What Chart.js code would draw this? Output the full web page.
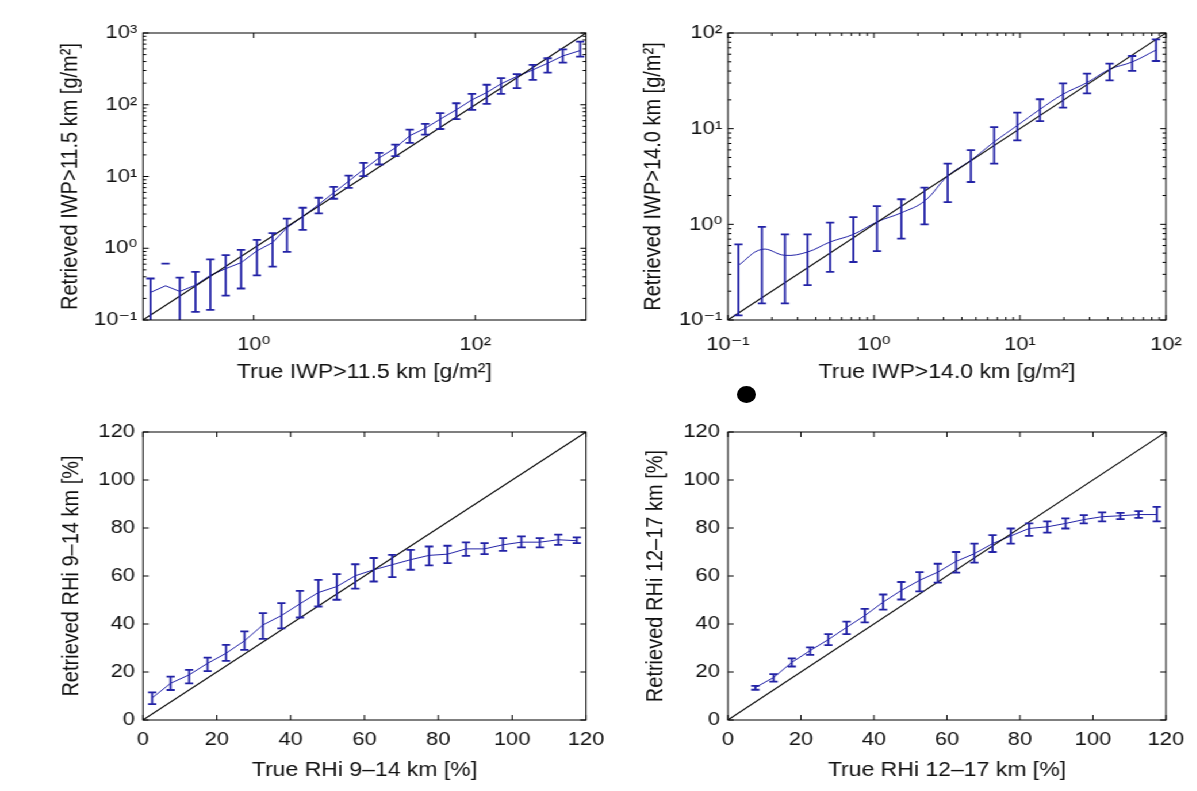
<!DOCTYPE html>
<html>
<head>
<meta charset="utf-8">
<title>IWP and RHi retrievals</title>
<script src="https://cdn.jsdelivr.net/npm/chart.js@4.4.0/dist/chart.umd.min.js"></script>
<style>
  html, body { margin: 0; padding: 0; background: #fff; overflow: hidden; }
  body { width: 1197px; height: 791px; position: relative; }
  /* the original figure is stretched a bit horizontally */
  #wrap { position: absolute; left: 0; top: 0; width: 1041px; height: 791px;
          transform: scaleX(1.15); transform-origin: 0 0; }
  #wrap canvas { position: absolute; }
  #dot { position: absolute; left: 737px; top: 386px; width: 19px; height: 17px;
         border-radius: 50%; background: #000; filter: blur(0.6px); }
</style>
</head>
<body>
<div id="wrap">
  <canvas id="iwp115" width="545" height="395" style="left:0;top:0"></canvas>
  <canvas id="iwp140" width="496" height="395" style="left:545px;top:0"></canvas>
  <canvas id="rhi914" width="545" height="396" style="left:0;top:395px"></canvas>
  <canvas id="rhi1217" width="496" height="396" style="left:545px;top:395px"></canvas>
</div>
<div id="dot"></div>
<script>
// IWP > 11.5 km  [g/m2]
const iwp115True = [0.117, 0.16, 0.215, 0.298, 0.406, 0.559, 0.769, 1.07, 1.48, 2.0, 2.77, 3.86, 5.27, 7.2, 9.8,
  13.6, 19.0, 25.6, 35.4, 48.3, 67.4, 93.3, 127, 171, 238, 331, 450, 618, 885];
const iwp115Mean = [0.242, 0.30, 0.25, 0.306, 0.42, 0.52, 0.63, 0.92, 1.2, 1.94, 2.75, 4.08, 5.93, 8.6, 12.5,
  18.2, 25, 37, 47, 63, 85, 117, 148, 196, 248, 306, 379, 479, 569];
const iwp115High = [0.379, 0.61, 0.39, 0.469, 0.70, 0.80, 0.95, 1.31, 1.62, 2.58, 3.67, 5.06, 7.18, 10.3, 15.5,
  21.3, 27.8, 45, 54, 76.6, 105, 142, 190, 235, 267, 359, 445, 593, 758];
const iwp115Low = [0.08, null, 0.09, 0.13, 0.138, 0.218, 0.275, 0.42, 0.556, 0.89, 1.8, 3.06, 4.9, 6.96, 10.1,
  14.7, 19.2, 29.4, 38.3, 45.9, 63, 85, 103, 142, 170, 222, 281, 387, 469];
const iwp115Range = [0.1, 1000];
const iwp115XTicks = [1, 100];
const iwp115YTicks = [0.1, 1, 10, 100, 1000];

// IWP > 14.0 km  [g/m2]
const iwp140True = [0.118, 0.171, 0.246, 0.351, 0.501, 0.723, 1.05, 1.54, 2.22, 3.2, 4.61, 6.65, 9.59, 13.7,
  19.7, 28.8, 41.1, 58.6, 85.5];
const iwp140Mean = [0.373, 0.548, 0.474, 0.514, 0.654, 0.786, 1.06, 1.32, 1.75, 3.2, 4.67, 7.26, 10.8, 15.9,
  22.9, 30.3, 41.7, 49.8, 66.4];
const iwp140High = [0.618, 0.94, 0.785, 0.785, 1.04, 1.19, 1.55, 1.83, 2.42, 4.31, 5.98, 10.4, 14.7, 20.3,
  29.8, 37.6, 47.8, 57.5, 85.9];
const iwp140Low = [0.112, 0.149, 0.149, 0.232, 0.318, 0.404, 0.526, 0.708, 1.0, 1.71, 2.77, 4.31, 7.55, 12.0,
  16.6, 23.4, 32.0, 40.1, 51.0];
const iwp140Range = [0.1, 100];
const iwp140Ticks = [0.1, 1, 10, 100];

// RHi 9-14 km  [%]
const rhi914True = [2.5, 7.5, 12.5, 17.5, 22.5, 27.5, 32.5, 37.5, 42.5, 47.5, 52.5, 57.5, 62.5, 67.5, 72.5,
  77.5, 82.5, 87.5, 92.5, 97.5, 102.5, 107.5, 112.5, 117.5];
const rhi914Mean = [9.2, 15.3, 18.8, 23.6, 27.8, 33.0, 39.6, 43.5, 48.4, 53.1, 55.6, 60.1, 62.6, 64.7, 66.8,
  68.6, 69.1, 71.3, 71.3, 73.0, 74.1, 74.1, 75.1, 74.7];
const rhi914High = [11.5, 18.1, 20.9, 26.0, 31.3, 36.9, 44.5, 48.7, 53.8, 58.4, 60.8, 64.9, 67.5, 68.8, 70.9,
  72.3, 72.6, 74.0, 73.7, 75.8, 76.5, 75.8, 77.2, 76.1];
const rhi914Low = [6.6, 12.5, 15.3, 20.4, 24.6, 29.2, 33.8, 38.2, 42.7, 47.3, 50.1, 54.7, 57.7, 59.5, 62.6,
  64.4, 65.4, 68.4, 69.1, 70.5, 71.9, 71.9, 73.0, 73.7];

// RHi 12-17 km  [%]
const rhi1217True = [7.5, 12.5, 17.5, 22.5, 27.5, 32.5, 37.5, 42.5, 47.5, 52.5, 57.5, 62.5, 67.5, 72.5, 77.5,
  82.5, 87.5, 92.5, 97.5, 102.5, 107.5, 112.5, 117.5];
const rhi1217Mean = [13.5, 17.7, 24.0, 28.9, 33.5, 38.6, 43.5, 49.1, 54.0, 58.2, 61.6, 66.1, 69.3, 73.5, 76.7,
  79.8, 80.5, 81.9, 83.5, 84.7, 85.1, 85.6, 85.6];
const rhi1217High = [14.2, 19.1, 25.7, 30.3, 35.8, 41.0, 46.3, 52.3, 57.5, 61.6, 65.1, 70.0, 73.5, 77.0, 79.8,
  81.9, 82.8, 84.0, 85.4, 86.5, 86.3, 87.0, 88.8];
const rhi1217Low = [12.6, 16.0, 22.3, 27.1, 31.2, 35.8, 40.7, 46.0, 50.2, 53.6, 57.2, 61.4, 65.6, 70.0, 73.5,
  76.7, 78.1, 79.8, 81.9, 82.8, 83.7, 84.2, 82.8];

const rhiRange = [0, 120];
const rhiTicks = [0, 20, 40, 60, 80, 100, 120];

const BLUE = "#2222a6";
const TXT = "#111";
const FONT = "'Liberation Sans', Arial, 'DejaVu Sans', sans-serif";

const SUP = { "-": "\u207B", "0": "\u2070", "1": "\u00B9", "2": "\u00B2", "3": "\u00B3" };
const pow10 = (v) => "10" + String(Math.round(Math.log10(v))).split("").map((c) => SUP[c]).join("");

// vertical error bars with caps, read from dataset.errLow / errHigh
const errorBars = {
  id: "errorBars",
  afterDatasetsDraw(chart) {
    const { ctx, chartArea: a, scales: { x, y } } = chart;
    const cap = 3.6;
    ctx.save();
    ctx.beginPath();
    ctx.rect(a.left, a.top, a.right - a.left, a.bottom - a.top);
    ctx.clip();
    chart.data.datasets.forEach((ds) => {
      if (!ds.errHigh) return;
      ctx.strokeStyle = ds.borderColor;
      ctx.lineWidth = 1.8;
      ds.data.forEach((pt, i) => {
        const px = x.getPixelForValue(pt.x);
        const hi = y.getPixelForValue(ds.errHigh[i]);
        ctx.beginPath();
        if (ds.errLow[i] != null) {
          const lo = y.getPixelForValue(ds.errLow[i]);
          ctx.moveTo(px, lo);
          ctx.lineTo(px, hi);
          ctx.moveTo(px - cap, lo);
          ctx.lineTo(px + cap, lo);
        }
        ctx.moveTo(px - cap, hi);
        ctx.lineTo(px + cap, hi);
        ctx.stroke();
      });
    });
    ctx.restore();
  },
};

// matlab style box with inward ticks on all sides
const frame = {
  id: "frame",
  afterDatasetsDraw(chart, args, opts) {
    const { ctx, chartArea: a, scales: { x, y } } = chart;
    ctx.save();
    ctx.strokeStyle = "#000";
    ctx.lineWidth = 1;
    ctx.strokeRect(a.left, a.top, a.right - a.left, a.bottom - a.top);

    const marks = (scale, vals, len) => {
      ctx.beginPath();
      vals.forEach((v) => {
        const p = scale.getPixelForValue(v);
        if (scale.axis === "x") {
          ctx.moveTo(p, a.bottom); ctx.lineTo(p, a.bottom - len);
          ctx.moveTo(p, a.top); ctx.lineTo(p, a.top + len);
        } else {
          ctx.moveTo(a.left, p); ctx.lineTo(a.left + len, p);
          ctx.moveTo(a.right, p); ctx.lineTo(a.right - len, p);
        }
      });
      ctx.stroke();
    };
    const minors = (scale) => {
      const out = [];
      for (let e = Math.floor(Math.log10(scale.min)); e <= Math.ceil(Math.log10(scale.max)); e++) {
        for (let k = 2; k <= 9; k++) {
          const v = k * Math.pow(10, e);
          if (v > scale.min && v < scale.max) out.push(v);
        }
      }
      return out;
    };

    marks(x, x.ticks.map((t) => t.value), 5);
    marks(y, y.ticks.map((t) => t.value), 5);
    if (opts.minorX) marks(x, minors(x), 3);
    if (opts.minorY) marks(y, minors(y), 3);
    ctx.restore();
  },
};

function axis(p, which) {
  const isX = which === "x";
  const log = p.log;
  return {
    type: log ? "logarithmic" : "linear",
    min: p.range[0],
    max: p.range[1],
    grid: { display: false, drawTicks: false },
    border: { display: false },
    ticks: {
      color: TXT,
      font: { family: FONT, size: 19 },
      padding: isX ? (log ? 13 : 8) : (log ? 5 : 7),
      maxRotation: 0,
      autoSkip: false,
      callback: log ? pow10 : (v) => v,
    },
    afterBuildTicks: (s) => {
      s.ticks = (isX ? p.xTicks : p.yTicks).map((v) => ({ value: v }));
    },
    afterFit: (s) => {
      if (isX) {
        s.height = p.xAxisH;
        s.paddingLeft = 0;
        s.paddingRight = 0;
      } else {
        s.width = p.yAxisW;
        s.paddingTop = 0;
        s.paddingBottom = 0;
      }
    },
    title: {
      display: true,
      text: isX ? p.xTitle : p.yTitle,
      color: TXT,
      font: { family: FONT, size: 20 },
      padding: isX ? { bottom: p.xTitlePad } : { top: p.yTitlePad },
    },
  };
}

function panel(id, p) {
  return new Chart(document.getElementById(id), {
    type: "scatter",
    data: {
      datasets: [
        {
          data: p.range.map((v) => ({ x: v, y: v })),
          showLine: true,
          borderColor: "#000",
          borderWidth: 1.1,
          pointRadius: 0,
        },
        {
          data: p.x.map((v, i) => ({ x: v, y: p.mean[i] })),
          showLine: true,
          borderColor: BLUE,
          borderWidth: 1,
          pointRadius: 0,
          tension: p.tension || 0,
          errLow: p.low,
          errHigh: p.high,
        },
      ],
    },
    options: {
      responsive: false,
      animation: false,
      layout: { padding: { top: p.padTop, right: p.padRight, left: 0, bottom: 0 } },
      plugins: {
        legend: { display: false },
        tooltip: { enabled: false },
        frame: { minorX: p.minorX, minorY: p.minorY },
      },
      scales: { x: axis(p, "x"), y: axis(p, "y") },
    },
    plugins: [errorBars, frame],
  });
}

panel("iwp115", {
  x: iwp115True, mean: iwp115Mean, low: iwp115Low, high: iwp115High,
  log: true, range: iwp115Range, xTicks: iwp115XTicks, yTicks: iwp115YTicks,
  minorX: false, minorY: true,
  xTitle: "True IWP>11.5 km [g/m\u00B2]", yTitle: "Retrieved IWP>11.5 km [g/m\u00B2]",
  padTop: 33, padRight: 35.4, yAxisW: 124.3, xAxisH: 75, yTitlePad: 49, xTitlePad: 11,
});

panel("iwp140", {
  x: iwp140True, mean: iwp140Mean, low: iwp140Low, high: iwp140High,
  log: true, range: iwp140Range, xTicks: iwp140Ticks, yTicks: iwp140Ticks,
  minorX: true, minorY: true, tension: 0.4,
  xTitle: "True IWP>14.0 km [g/m\u00B2]", yTitle: "Retrieved IWP>14.0 km [g/m\u00B2]",
  padTop: 33, padRight: 27.1, yAxisW: 88, xAxisH: 75, yTitlePad: 11, xTitlePad: 11,
});

panel("rhi914", {
  x: rhi914True, mean: rhi914Mean, low: rhi914Low, high: rhi914High,
  log: false, range: rhiRange, xTicks: rhiTicks, yTicks: rhiTicks,
  xTitle: "True RHi 9\u201314 km [%]", yTitle: "Retrieved RHi 9\u201314 km [%]",
  padTop: 37, padRight: 35.4, yAxisW: 124.3, xAxisH: 71, yTitlePad: 50, xTitlePad: 9,
});

panel("rhi1217", {
  x: rhi1217True, mean: rhi1217Mean, low: rhi1217Low, high: rhi1217High,
  log: false, range: rhiRange, xTicks: rhiTicks, yTicks: rhiTicks,
  xTitle: "True RHi 12\u201317 km [%]", yTitle: "Retrieved RHi 12\u201317 km [%]",
  padTop: 37, padRight: 27.1, yAxisW: 88, xAxisH: 71, yTitlePad: 13, xTitlePad: 9,
});
</script>
</body>
</html>
